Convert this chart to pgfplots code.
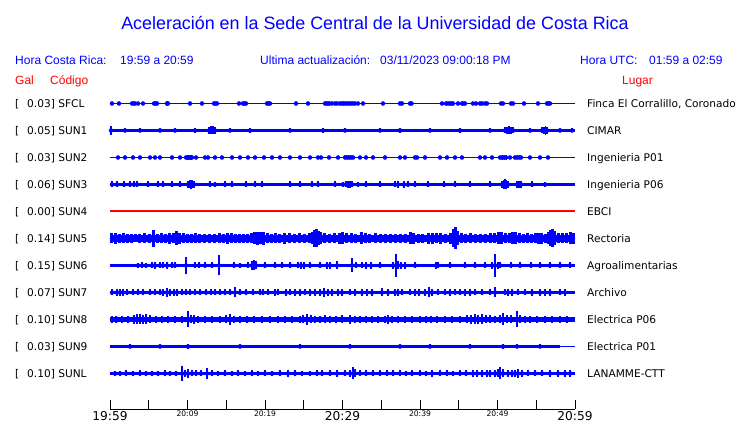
\documentclass[border=0pt]{standalone}
\usepackage{pgfplots}
\pgfplotsset{compat=1.18}
\usepackage{fontspec}
\setmainfont{Liberation Sans}
\newfontfamily\dejavu{DejaVu Sans}
\definecolor{sblue}{RGB}{0,0,255}
\definecolor{sred}{RGB}{255,0,0}
\pgfplotsset{
  trace/.style={color=sblue, only marks, mark=none, error bars/.cd, y dir=both, y explicit,
    error mark=none, error bar style={color=sblue, line width=#1, line cap=butt}},
  trace/.default=1.6pt,
  base/.style={color=sblue, mark=none, line width=#1, line cap=butt}
}
\begin{document}
\begin{tikzpicture}
\begin{axis}[scale only axis, width=465pt, height=409pt,
  xmin=110, xmax=575, ymin=0, ymax=409, clip=false,
  axis x line*=bottom, axis y line=none,
  xtick={110,148.75,187.5,226.25,265,303.75,342.5,381.25,420,458.75,497.5,536.25,575},
  xtick align=inside, major tick length=9pt,
  every tick/.style={black, line width=0.9pt}, axis line style={black, line width=0.9pt},
  xticklabel style={inner sep=0pt, yshift=-2pt, font=\dejavu},
  xticklabels={{\fontsize{12.2}{13}\selectfont 19:59},{},{\raisebox{-1.5pt}{\fontsize{7.6}{8}\selectfont 20:09}},{},{\raisebox{-1.5pt}{\fontsize{7.6}{8}\selectfont 20:19}},{},{\fontsize{12.2}{13}\selectfont 20:29},{},{\raisebox{-1.5pt}{\fontsize{7.6}{8}\selectfont 20:39}},{},{\raisebox{-1.5pt}{\fontsize{7.6}{8}\selectfont 20:49}},{},{\fontsize{12.2}{13}\selectfont 20:59}}]
\coordinate (BL) at (axis cs:0,-14);
\coordinate (TR) at (axis cs:740,409);
% header texts (y = 409 - pixel row)
\node[anchor=base, inner sep=0, text=sblue, font=\fontsize{17.9}{20}\selectfont] at (axis cs:375,379) {Aceleración en la Sede Central de la Universidad de Costa Rica};
\begin{scope}[every node/.style={anchor=base west, inner sep=0, font=\fontsize{12}{14}\selectfont}]
\node[text=sblue] at (axis cs:15,344.5) {Hora Costa Rica:};
\node[text=sblue] at (axis cs:120,344.5) {19:59 a 20:59};
\node[text=sblue] at (axis cs:260,344.5) {Ultima actualización:};
\node[text=sblue] at (axis cs:380,344.5) {03/11/2023 09:00:18 PM};
\node[text=sblue] at (axis cs:580,344.5) {Hora UTC:};
\node[text=sblue] at (axis cs:649,344.5) {01:59 a 02:59};
\node[text=sred] at (axis cs:15,324.5) {Gal};
\node[text=sred] at (axis cs:50,324.5) {Código};
\node[text=sred] at (axis cs:622,324.5) {Lugar};
\end{scope}
\begin{scope}[every node/.style={anchor=base west, inner sep=0, font=\dejavu\fontsize{10.6}{12}\selectfont}]
\node at (axis cs:15,301.5) {[}; \node at (axis cs:27,301.5) {0.03] SFCL}; \node at (axis cs:587,301.5) {Finca El Corralillo, Coronado};
\node at (axis cs:15,274.5) {[}; \node at (axis cs:27,274.5) {0.05] SUN1}; \node at (axis cs:587,274.5) {CIMAR};
\node at (axis cs:15,247.5) {[}; \node at (axis cs:27,247.5) {0.03] SUN2}; \node at (axis cs:587,247.5) {Ingenieria P01};
\node at (axis cs:15,220.5) {[}; \node at (axis cs:27,220.5) {0.06] SUN3}; \node at (axis cs:587,220.5) {Ingenieria P06};
\node at (axis cs:15,193.5) {[}; \node at (axis cs:27,193.5) {0.00] SUN4}; \node at (axis cs:587,193.5) {EBCI};
\node at (axis cs:15,166.5) {[}; \node at (axis cs:27,166.5) {0.14] SUN5}; \node at (axis cs:587,166.5) {Rectoria};
\node at (axis cs:15,139.5) {[}; \node at (axis cs:27,139.5) {0.15] SUN6}; \node at (axis cs:587,139.5) {Agroalimentarias};
\node at (axis cs:15,112.5) {[}; \node at (axis cs:27,112.5) {0.07] SUN7}; \node at (axis cs:587,112.5) {Archivo};
\node at (axis cs:15,85.5) {[}; \node at (axis cs:27,85.5) {0.10] SUN8}; \node at (axis cs:587,85.5) {Electrica P06};
\node at (axis cs:15,58.5) {[}; \node at (axis cs:27,58.5) {0.03] SUN9}; \node at (axis cs:587,58.5) {Electrica P01};
\node at (axis cs:15,31.5) {[}; \node at (axis cs:27,31.5) {0.10] SUNL}; \node at (axis cs:587,31.5) {LANAMME-CTT};
\end{scope}
% SFCL
\addplot[base=1pt] coordinates {(110,305.5) (575,305.5)};
\addplot[trace=1pt] table[row sep=\\, x index=0, y expr=305.5, y error index=1]{x h\\
112 1.1\\119 1.1\\132 1.4\\133.5 1.4\\135 1.4\\138 1.1\\143 1.2\\154 1.4\\155.5 1.4\\157 1.4\\167 2.5\\168 2\\190 1.2\\202 1.1\\214 1.4\\215.5 1.4\\217 1.4\\239 1.2\\243 1.4\\244.5 1.4\\246 1.4\\267 1.4\\268.5 1.4\\270 1.2\\296 1.1\\308 1\\325 1.4\\326.5 1.4\\328 1.4\\329.5 1.4\\332 1.2\\335 1.4\\337 1.1\\340 1.4\\342 1.7\\343.5 1.9\\345 1.6\\347 1.4\\349 1.2\\351 1.4\\353 1.2\\355 1.4\\358 1.2\\363 1.1\\383 1\\400 1.1\\402 1.1\\410 1.4\\411.5 1.4\\442 1.1\\446 1.2\\448 1.2\\450 1.4\\451.5 1.4\\453 1.4\\458 1.2\\462 1.2\\463.5 1.4\\465 1.2\\473 1.1\\476 1.1\\480 1.2\\482 1.4\\485 1.2\\487 1.2\\501 1.1\\503 1.1\\511 1.2\\513 1.1\\524 1\\538 1.2\\547 1.4\\548.5 1.4\\550 1.4\\
};
% SUN1
\addplot[base=2.4pt] coordinates {(110,278.5) (575,278.5)};
\addplot[trace] table[row sep=\\, x index=0, y expr=278.5, y error index=1]{x h\\
111 4.3\\125 2\\140 2\\160 2\\175 2\\195 2.2\\209 3.5\\211 4\\213 4\\215 3.5\\230 2\\250 2.2\\290 2\\323 2.5\\345 2\\380 2\\400 2.2\\430 2\\460 2.2\\490 2\\505 3\\507 3.8\\509 4\\511 3.8\\513 3\\530 2\\542 3\\544 3.5\\545.5 4.3\\547 3.3\\560 2\\572 2\\
};
% SUN2
\addplot[base=1pt] coordinates {(110,251.5) (575,251.5)};
\addplot[trace=1pt] table[row sep=\\, x index=0, y expr=251.5, y error index=1]{x h\\
118 1.2\\125 1.2\\133 1.2\\140 1.2\\150 1.2\\155 1.2\\160 1.2\\172 1.2\\180 1.2\\186 1.5\\187.5 2.3\\189 2.5\\190.5 2.5\\192 2.3\\196 1.5\\205 1.2\\208 1.4\\215 1.2\\222 1.2\\232 1.4\\240 1.2\\248 1.4\\255 1.2\\264 1.2\\272 1.2\\280 1.2\\290 1.1\\300 1.2\\310 1.1\\318 1.4\\321 1.2\\329 1.4\\338 1.2\\345 2\\347 2\\349 2\\351 2\\353 1.8\\360 1.2\\366 1.4\\373 1.2\\385 1.2\\400 1.2\\405 1.4\\415 1.4\\417 1.4\\425 1.2\\440 1.2\\447 1.2\\455 1.2\\462 1.4\\480 1.2\\485 1.2\\492 1.2\\500 1.5\\502 2.3\\504 2.5\\506 2.3\\510 1.2\\515 1.8\\517 2\\519 2\\521 1.8\\530 1.2\\540 1.2\\548 1.2\\
};
% SUN3
\addplot[base=3.4pt] coordinates {(110,224.5) (575,224.5)};
\addplot[trace] table[row sep=\\, x index=0, y expr=224.5, y error index=1]{x h\\
112 3\\117 3\\124 3\\130 3\\134 3\\137 3\\148 3\\158 3\\163 3\\172 3\\180 3\\188 3.5\\189.5 4\\191 4.3\\192.5 4\\194 3.5\\210 3\\215 2.8\\225 3\\232 3\\246 3\\255 3\\262 3\\290 3\\300 3\\312 3\\318 3\\335 3\\343 2.8\\346 3\\348 3.3\\350 3.3\\352 3\\358 2.8\\366 3\\380 3\\395 3\\398 3.5\\404 3.3\\408 3\\415 3\\428 3\\444 3\\455 3\\470 3\\490 3\\502 3.5\\503.5 4.5\\505 5\\506.5 4.5\\508 3.5\\517 3.2\\519 3.5\\521 3.5\\532 3\\545 2.8\\
};
% SUN4
\addplot[color=sred, mark=none, line width=1.2pt, line cap=butt] coordinates {(110,198) (575,198)};
% SUN5
\addplot[base=7.5pt] coordinates {(110,170.5) (575,170.5)};
\addplot[trace=3pt] table[row sep=\\, x index=0, y expr=170.5, y error index=1]{x h\\
112 5\\116 5.5\\120 4.5\\124 5\\128 4.2\\132 4.5\\136 4\\140 4.5\\145 5\\150 4.5\\154 8.3\\158 4.5\\162 5\\166 4.5\\170 5.5\\174 5\\177 7\\180 5.5\\184 5\\188 4.5\\192 4.5\\196 5\\200 4.2\\205 4.5\\210 4.2\\215 4.5\\220 5\\224 4.5\\228 5.5\\232 5\\236 4.5\\240 4.5\\244 4.2\\248 4.5\\252 5\\255 6\\258 6.2\\261 6\\264 6.2\\268 5\\272 4.5\\276 5\\280 4.5\\285 5.5\\290 5\\295 4.5\\300 5\\305 4.5\\310 5\\313 6\\315 8.5\\317 9\\319 7\\321 6\\325 5\\330 4.5\\335 5\\340 5.5\\343 6\\347 5\\352 5\\356 4.5\\362 6\\366 5\\370 4.5\\375 5\\380 4.5\\385 4.5\\390 4.2\\395 4.5\\400 4.5\\405 4.5\\410 6\\413 5.5\\418 4.5\\422 4.5\\428 5.5\\432 5.5\\436 5\\440 5.5\\445 4.5\\450 5.5\\453 9\\455 11\\457 7\\461 5\\465 4.5\\470 5\\475 4.5\\480 4.5\\485 4.5\\490 5\\494 5\\498 6\\501 6\\505 5\\509 5\\512 6\\515 6\\519 5\\523 4.5\\527 5\\531 4.5\\535 5\\538 5.5\\541 5.5\\545 4.5\\548 6\\550 8\\552 9\\554 7\\558 5\\562 5\\566 5\\570 6\\573 5.5\\
};
% SUN6
\addplot[base=3.5pt] coordinates {(110,143.5) (575,143.5)};
\addplot[trace] table[row sep=\\, x index=0, y expr=143.5, y error index=1]{x h\\
138 2.8\\142 3\\146 2.8\\152 3\\155 3.2\\160 3\\163 3\\167 3.2\\172 3\\175 3\\186 8.5\\195 3\\199 3\\205 3\\212 3\\219 10\\234 3\\240 2.8\\248 3\\252 4.5\\254 5\\256 4\\265 3\\275 3\\282 3\\290 3\\298 3\\301 3.5\\304 3.5\\310 3\\320 3\\327 3.5\\330 3.5\\337 4\\352 7\\356 3\\362 3\\366 3.5\\371 3.5\\380 3\\393 3.5\\396 11.5\\398 4\\401 3.5\\405 3.5\\415 3\\436 3.5\\438 3\\450 3\\465 3\\475 3\\485 3\\492 3.5\\495 11.3\\498 3.5\\500 3\\511 3\\520 3\\531 3\\540 3\\550 3\\560 3\\570 3\\
};
% SUN7
\addplot[base=3.6pt] coordinates {(110,116.5) (575,116.5)};
\addplot[trace=2pt] table[row sep=\\, x index=0, y expr=116.5, y error index=1]{x h\\
112 3\\117 3.3\\120 3.5\\123 3.5\\127 3\\133 3\\138 3\\143 3\\150 3\\155 3\\160 3\\163 3.5\\167 4.5\\170 3.5\\174 3.5\\177 3.3\\182 3\\186 3\\190 3\\195 3\\200 3\\206 3\\211 3\\215 3\\220 3\\225 3\\230 3\\235 5\\240 3\\246 3\\253 3\\260 3\\263 3\\268 3\\275 3.3\\278 3\\286 3.5\\290 3\\295 3.3\\300 3.5\\305 3\\310 3.3\\315 3.5\\320 3.3\\324 4.5\\328 3.5\\332 3.3\\338 3.3\\342 3.5\\350 3\\355 3.3\\362 3.5\\367 3.5\\372 3.3\\382 4\\388 3.3\\395 3.5\\398 3.5\\402 3\\410 3\\415 3.3\\419 3.5\\425 3.5\\429 5\\432 3.5\\438 3\\445 3\\450 3.3\\455 3\\460 3\\465 3.5\\470 3.5\\475 3\\482 3\\490 3\\495 5\\505 3\\508 3.5\\512 3.5\\518 3\\525 3\\532 3.3\\540 3.5\\545 3.5\\550 3.3\\560 3\\565 3.3\\
};
% SUN8
\addplot[base=4.6pt] coordinates {(110,89.5) (575,89.5)};
\addplot[trace=2pt] table[row sep=\\, x index=0, y expr=89.5, y error index=1]{x h\\
112 3.5\\116 3.5\\122 3.5\\128 3.5\\134 4.5\\137 5\\140 5\\143 4.5\\146 5\\150 4\\156 3.5\\162 3.5\\168 3.5\\175 3.5\\182 3.5\\188 8\\191 4\\194 4.5\\198 3.5\\205 3.5\\212 3.5\\220 3.5\\226 4\\230 5.5\\234 3.5\\240 3.5\\247 3.5\\254 3.5\\262 3.5\\270 3.5\\278 3.5\\285 3.5\\292 3.5\\300 3.5\\303 4\\307 5.3\\311 4\\315 3.8\\320 3.5\\325 4\\330 3.5\\336 3.5\\342 4\\350 4.5\\355 3.5\\360 3.5\\366 3.5\\372 3.8\\378 3.5\\385 3.5\\388 4.5\\392 3.5\\398 3.5\\405 3.5\\412 3.5\\420 3.5\\426 3.5\\431 3.5\\437 3.5\\445 3.5\\452 3.5\\460 3.8\\467 4\\471 4.5\\475 5\\478 4.5\\482 5\\486 4\\490 4\\495 3.5\\500 4\\503 6\\507 4\\511 4\\517 8\\520 4\\525 3.5\\530 3.5\\537 3.5\\545 3.5\\552 3.5\\560 3.5\\567 3.5\\
};
% SUN9
\addplot[base=3pt] coordinates {(110,62.5) (560,62.5)};
\addplot[base=1.5pt] coordinates {(560,62.5) (575,62.5)};
\addplot[trace] table[row sep=\\, x index=0, y expr=62.5, y error index=1]{x h\\
130 2\\160 2\\188 2.7\\240 2\\300 2\\350 2\\400 2\\430 2\\470 2\\503 2.7\\517 2\\540 2\\
};
% SUNL
\addplot[base=3.2pt] coordinates {(110,35.5) (575,35.5)};
\addplot[trace=2pt] table[row sep=\\, x index=0, y expr=35.5, y error index=1]{x h\\
115 2.5\\120 2.5\\126 3\\133 2.5\\140 3\\146 2.5\\152 2.5\\158 2.8\\165 3\\170 2.5\\176 2.8\\182 7.5\\185 3.5\\188 4.5\\192 3\\196 3\\201 3\\207 5.5\\212 3\\218 2.8\\225 3\\232 2.8\\238 3\\245 2.5\\252 3\\258 2.8\\265 3\\272 2.8\\280 3\\288 3.5\\295 3\\302 2.8\\310 2.8\\317 3\\322 3\\330 3\\337 3.2\\345 3\\350 3.5\\353 6\\355 4\\360 3\\366 3\\373 3\\380 3\\387 3\\393 3\\400 3\\406 2.8\\412 3\\420 3\\426 2.8\\432 3.3\\440 3\\447 3\\453 2.8\\460 3\\466 3\\473 3.2\\477 3.5\\482 3.5\\487 3.2\\490 3.5\\495 3.5\\498 4\\500 6\\503 4\\508 3.5\\512 3.5\\515 3.3\\518 4.5\\522 3.5\\528 3\\535 3\\542 3\\550 3.2\\558 3.2\\565 3.5\\570 3.5\\
};
\end{axis}
\pgfresetboundingbox
\path[use as bounding box] (BL) rectangle (TR);
\end{tikzpicture}
\end{document}
